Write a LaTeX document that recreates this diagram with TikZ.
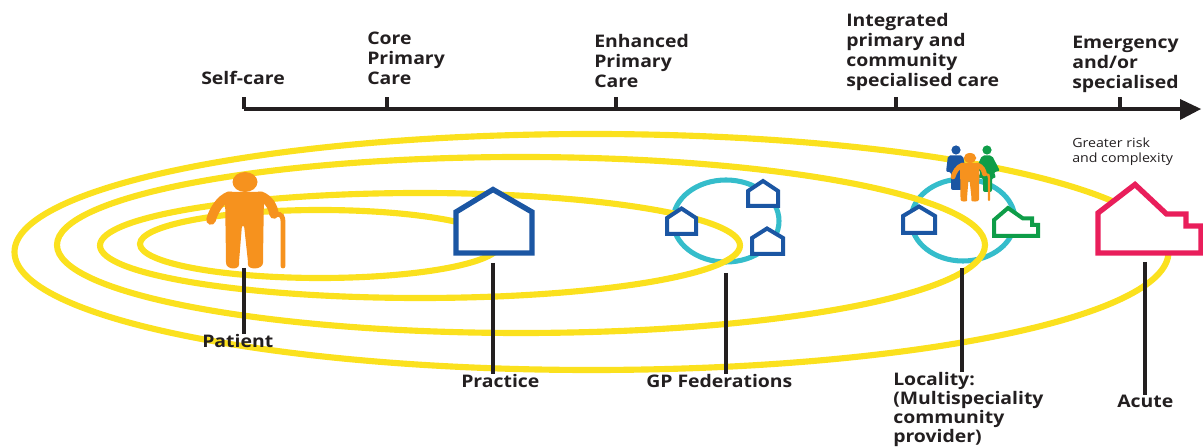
\documentclass[tikz,border=0pt]{standalone}
\usepackage{fontspec}
\setmainfont[FakeStretch=1.12]{Open Sans}
\definecolor{yel}{HTML}{FBE11E}
\definecolor{cyn}{HTML}{35BDCB}
\definecolor{blu}{HTML}{1B56A3}
\definecolor{org}{HTML}{F6921E}
\definecolor{grn}{HTML}{0E9D48}
\definecolor{rdd}{HTML}{E91E5B}
\definecolor{ink}{HTML}{231F20}
\tikzset{
  ring/.style={draw=yel,line width=4.6pt},
  hub/.style={draw=cyn,line width=3.8pt},
  house/.style={draw=#1,fill=white,line width=4pt,line join=miter},
  axisline/.style={draw=ink,line width=2.4pt},
  lead/.style={draw=ink,line width=2.5pt},
  head/.style={font=\fontsize{13}{15}\selectfont\bfseries,text=ink,align=left,inner sep=0pt,anchor=south west},
  tag/.style={font=\fontsize{13}{15}\selectfont\bfseries,text=ink,align=left,inner sep=0pt,anchor=north west},
}
\newcommand{\elder}[3]{%
\begin{scope}[shift={(#1,#2)},scale=#3,org]
  \fill (0,-38) ellipse (12.5 and 10);
  \fill[rounded corners=2] (-20,-28) -- (19,-28) -- (18,40) .. controls (18,50) and (3,50) .. (3,42) -- (-1,5) -- (-3,5) -- (-6,42) .. controls (-6,50) and (-19,50) .. (-19,40) -- cycle;
  \draw[line width=#3*7.2pt,line cap=round] (-15,-24) .. controls (-25,-21) and (-32,-8) .. (-34,0);
  \draw[line width=#3*7.2pt,line cap=round] (15,-24) .. controls (24,-21) and (28,-13) .. (29,-6);
  \draw[line width=#3*3.6pt,line cap=round] (31,-6) .. controls (37,-6) and (38,-3) .. (38,2) -- (38,46);
\end{scope}}
\begin{document}
\begin{tikzpicture}[x=0.75pt,y=-0.75pt]
\useasboundingbox (0,0) rectangle (1203,448);
% hubs under the rings
\draw[hub] (726,221) ellipse (53 and 41);
\draw[hub] (963,220) ellipse (52 and 41);
% rings
\draw[ring] (591.5,252) ellipse (577 and 118);
\draw[ring] (521,245) ellipse (464 and 88);
\draw[ring] (420,245.5) ellipse (320 and 52.5);
\draw[ring] (320,244) ellipse (180 and 34);
% axis
\coordinate (a0) at (244,109);
\coordinate (a1) at (387,109);
\coordinate (a2) at (616,109);
\coordinate (a3) at (896,109);
\coordinate (a4) at (1120,109);
\coordinate (aend) at (1182,109);
\coordinate (t0) at (244,97);
\coordinate (t1) at (387,97);
\coordinate (t2) at (616,97);
\coordinate (t3) at (896,97);
\coordinate (t4) at (1120,97);
\draw[axisline] (a0) -- (aend);
\fill[ink] (1180,99) -- (1201,109) -- (1180,120) -- cycle;
\foreach \i in {0,...,4} \draw[axisline] (a\i) -- (t\i);
% heading labels
\node[head] (selfcare) at (201,84.5) {Self-care};
\node[head] (core) at (367,85) {Core\\Primary\\Care};
\node[head] (enh) at (594,88) {Enhanced\\Primary\\Care};
\node[head] (integ) at (846,91) {Integrated\\primary and\\community\\specialised care};
\node[head] (emer) at (1072,93) {Emergency\\and/or\\specialised};
\node[inner sep=0pt,anchor=north west,align=left,text=ink,font=\fontsize{9.5}{11.2}\selectfont] (risk) at (1072,138) {Greater risk\\and complexity};
% houses
\draw[house=blu] (456,212) -- (493,189.5) -- (532,212) -- (532,253) -- (456,253) -- cycle;
\begin{scope}[every path/.style={house=blu,line width=3pt}]
\draw (667,218) -- (681.5,208.5) -- (696,218) -- (696,234) -- (667,234) -- cycle;
\draw (748,191) -- (763,181) -- (778,191) -- (778,206) -- (748,206) -- cycle;
\draw (752,238) -- (767,228.5) -- (783,238) -- (783,254) -- (752,254) -- cycle;
\draw (903,216) -- (919,206.5) -- (935,216) -- (935,233) -- (903,233) -- cycle;
\end{scope}
\draw[house=grn,line width=3pt] (994,220) -- (1008,208) -- (1023,218.5) -- (1032,218.5) -- (1032,225) -- (1038,225) -- (1038,236) -- (994,236) -- cycle;
\draw[house=rdd] (1098,213) -- (1135,184.5) -- (1166.5,214) -- (1186,214) -- (1186,226) -- (1201,226) -- (1201,253) -- (1098,253) -- cycle;
% small family
\fill[blu] (956,150) circle (4.6);
\fill[blu,rounded corners=1.5] (948,155.5) -- (963,155.5) -- (966,172) -- (962,172) -- (962,190) -- (951,190) -- (951,172) -- (946,172) -- cycle;
\fill[grn] (987,150) circle (4.6);
\fill[grn,rounded corners=1.5] (982,155.5) -- (992,155.5) -- (1000,171) -- (994,172) -- (996,178) -- (992,178) -- (992,192) -- (983,192) -- (983,178) -- (978,178) -- (981,171) -- (975,171) -- cycle;
\elder{970}{177}{0.5}
% patient
\elder{245}{220}{1}
% leaders
\coordinate (p0) at (244,268);
\coordinate (p1) at (493,263);
\coordinate (p2) at (726,273);
\coordinate (p3) at (962,268);
\coordinate (p4) at (1145,262);
\node[tag] (patient) at (202,334) {Patient};
\node[tag] (practice) at (461,374) {Practice};
\node[tag] (gpfed) at (646,374) {GP Federations};
\node[tag,font=\fontsize{13}{14.3}\selectfont\bfseries] (local) at (893,372) {Locality:\\(Multispeciality\\community\\provider)};
\node[tag] (acute) at (1117,395) {Acute};
\draw[lead] (p0) -- (p0 |- patient.north);
\draw[lead] (p1) -- (p1 |- practice.north);
\draw[lead] (p2) -- (p2 |- gpfed.north);
\draw[lead] (p3) -- (p3 |- local.north);
\draw[lead] (p4) -- (p4 |- acute.north);
\end{tikzpicture}
\end{document}
